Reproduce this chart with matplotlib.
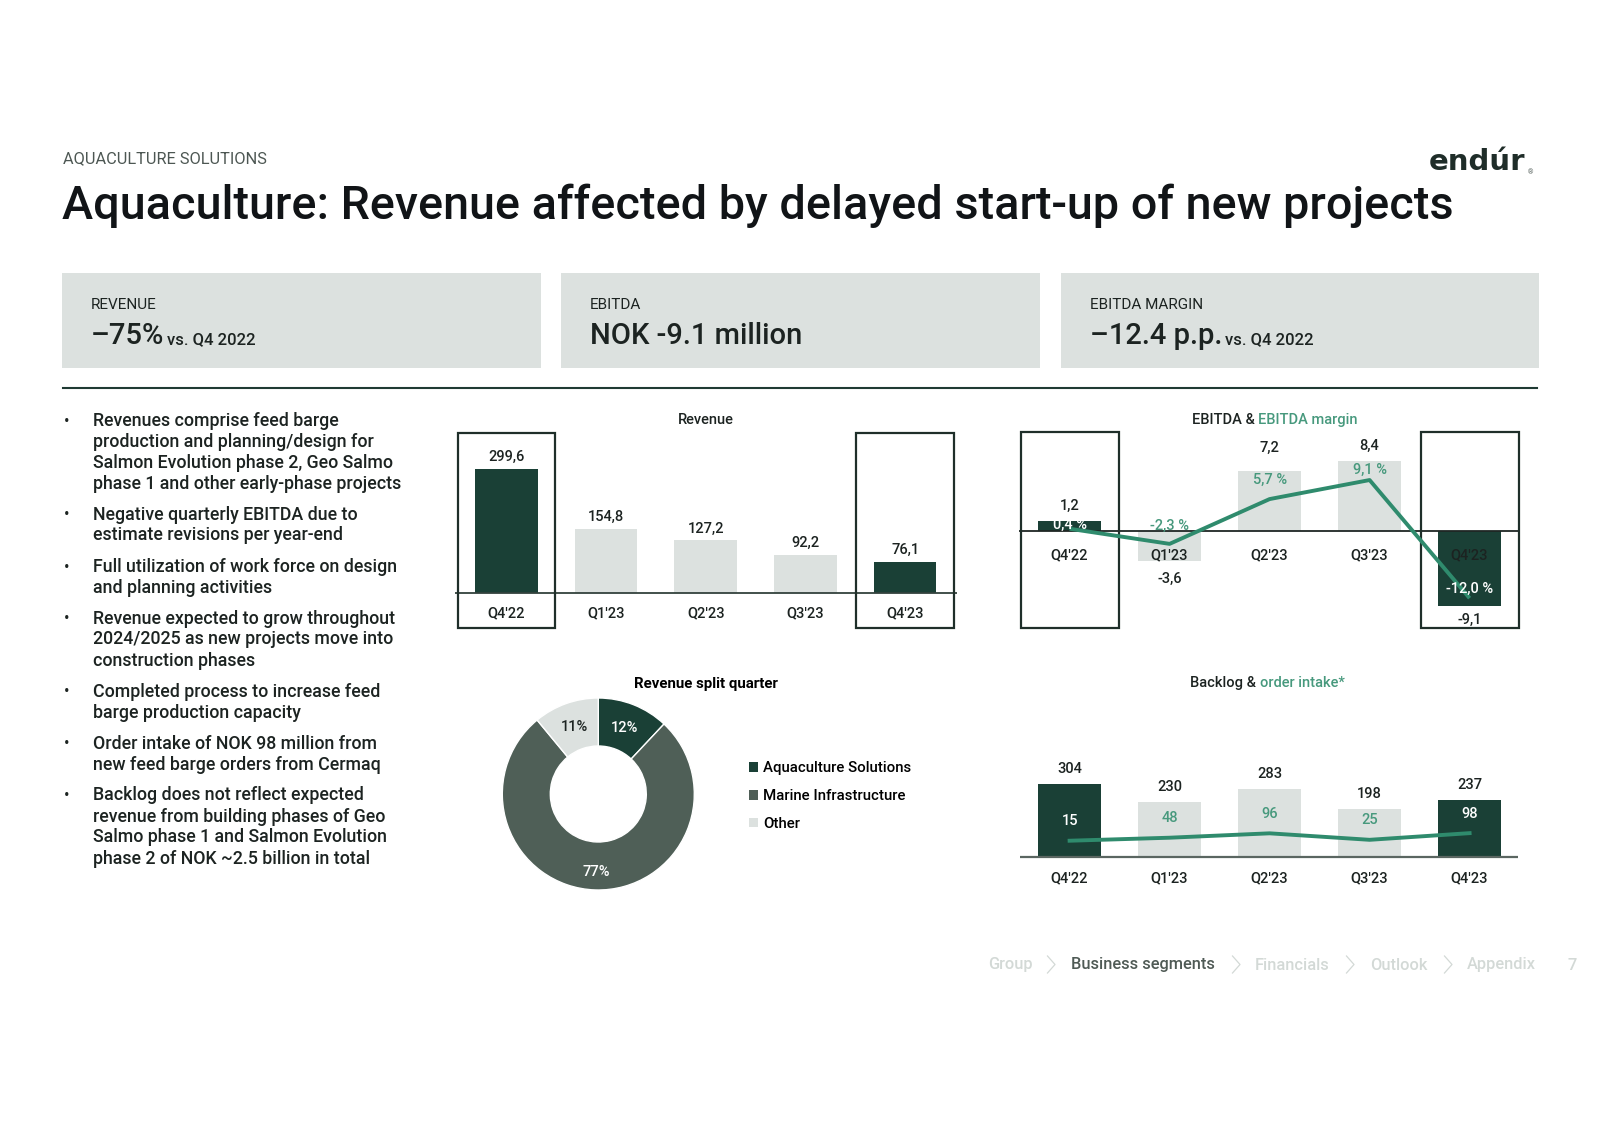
import matplotlib
matplotlib.use('Agg')
import matplotlib.pyplot as plt
from matplotlib.patches import Rectangle
from matplotlib.lines import Line2D

plt.rcParams['font.family'] = ['Roboto', 'DejaVu Sans']

# ---------------- data ----------------
quarters = ["Q4'22", "Q1'23", "Q2'23", "Q3'23", "Q4'23"]
revenue = [299.6, 154.8, 127.2, 92.2, 76.1]
ebitda = [1.2, -3.6, 7.2, 8.4, -9.1]
ebitda_margin = [0.4, -2.3, 5.7, 9.1, -12.0]
backlog = [304, 230, 283, 198, 237]
order_intake = [15, 48, 96, 25, 98]
split_labels = ["Aquaculture Solutions", "Marine Infrastructure", "Other"]
split_values = [12, 77, 11]
kpi_labels = ["REVENUE", "EBITDA", "EBITDA MARGIN"]
kpi_values = ["\u201375%", "NOK -9.1 million", "\u201312.4 p.p."]
kpi_suffix = ["vs. Q4 2022", "", "vs. Q4 2022"]
bullets = [
    ["Revenues comprise feed barge", "production and planning/design for",
     "Salmon Evolution phase 2, Geo Salmo", "phase 1 and other early-phase projects"],
    ["Negative quarterly EBITDA due to", "estimate revisions per year-end"],
    ["Full utilization of work force on design", "and planning activities"],
    ["Revenue expected to grow throughout", "2024/2025 as new projects move into",
     "construction phases"],
    ["Completed process to increase feed", "barge production capacity"],
    ["Order intake of NOK 98 million from", "new feed barge orders from Cermaq"],
    ["Backlog does not reflect expected", "revenue from building phases of Geo",
     "Salmo phase 1 and Salmon Evolution", "phase 2 of NOK ~2.5 billion in total"],
]
nav_items = ["Group", "Business segments", "Financials", "Outlook", "Appendix"]
page_number = "7"

# ---------------- styles ----------------
DARK = '#1a4036'
LIGHT = '#dce1df'
MID = '#4f5f57'
TEAL = '#2f8b6d'
TEAL_TXT = '#47997d'
INK = '#1c2321'
BOXLINE = '#1f2f2a'

W, H = 1600, 1131
fig = plt.figure(figsize=(16, 11.31), dpi=100)
fig.patch.set_facecolor('white')


def fx(x):
    return x / W


def fy(y):
    return 1 - y / H


def axes_at(left, top, right, bottom):
    ax = fig.add_axes([fx(left), fy(bottom), (right - left) / W, (bottom - top) / H])
    ax.axis('off')
    return ax


def fmt(v):
    return f"{v:.1f}".replace('.', ',')


n = len(quarters)
xs = list(range(n))
bar_colors = [DARK if i in (0, n - 1) else LIGHT for i in xs]

# ---------------- header ----------------
fig.text(fx(63), fy(159), "AQUACULTURE SOLUTIONS", fontsize=11.8, color='#4d5753',
         ha='left', va='center')
fig.text(fx(62), fy(206), "Aquaculture: Revenue affected by delayed start-up of new projects",
         fontsize=33.7, color='#111417', ha='left', va='center', weight='medium')
fig.text(fx(1429), fy(169.5), "end\u00far", fontsize=21, color='#1f2d29', ha='left',
         va='baseline', weight='bold', family='DejaVu Sans')
fig.text(fx(1527.5), fy(172.5), "\u00ae", fontsize=5, color='#55605c', ha='left', va='center')

# KPI boxes
box_x = [(62, 541), (561, 1040), (1061, 1539)]
for (l, r), lab, val, suf in zip(box_x, kpi_labels, kpi_values, kpi_suffix):
    fig.add_artist(Rectangle((fx(l), fy(368)), (r - l) / W, (368 - 273) / H,
                             transform=fig.transFigure, facecolor='#dce1df', edgecolor='none'))
    fig.text(fx(l + 29), fy(305), lab, fontsize=11, color=INK, ha='left', va='center')
    t = fig.text(fx(l + 29), fy(344), val, fontsize=21, color=INK, ha='left',
                 va='baseline', weight='medium')
    if suf:
        fig.canvas.draw()
        bb = t.get_window_extent()
        fig.text(bb.x1 / W + fx(3), fy(344), suf, fontsize=12, color=INK, ha='left',
                 va='baseline', weight='medium')

fig.add_artist(Line2D([fx(63), fx(1537)], [fy(388), fy(388)], color='#1f3a33', lw=1.5))

# ---------------- bullets ----------------
para_top = [421, 514.5, 567, 618.5, 692, 744, 795.5]
for top, lines in zip(para_top, bullets):
    fig.text(fx(64), fy(top), "\u2022", fontsize=12, color=INK, ha='left', va='center')
    for k, line in enumerate(lines):
        fig.text(fx(93), fy(top + 21 * k), line, fontsize=12.75, color=INK, ha='left',
                 va='center', weight='medium')

# ---------------- Revenue chart ----------------
ax1 = axes_at(454.5, 425, 956.9, 632)
ax1.set_xlim(-0.52, 4.52)
ax1.set_ylim(-93.3, 405.5)
ax1.bar(xs, revenue, width=0.63, color=bar_colors, zorder=2)
ax1.axhline(0, color='#33423d', lw=1.3, zorder=3)
for i in (0, n - 1):
    ax1.add_patch(Rectangle((i - 0.488, -82.9), 0.976, 387 + 82.9, fill=False,
                            ec=BOXLINE, lw=1.6, zorder=4))
for i, v in enumerate(revenue):
    ax1.annotate(fmt(v), (i, v), xytext=(0, 8.4), textcoords='offset points',
                 ha='center', va='center', fontsize=10.5, color=INK, weight='medium')
    ax1.text(i, -48, quarters[i], ha='center', va='center', fontsize=10.5, color=INK,
             weight='medium')
fig.text(fx(705.5), fy(420), "Revenue", fontsize=10.5, color=INK, ha='center', va='center',
         weight='medium')

# ---------------- EBITDA chart ----------------
# x: 1069.6 + 100*i px ; zero line at 531 px, 8.28 px per unit
ax2 = axes_at(1017.6, 425, 1521.6, 632)
ax2.set_xlim(-0.52, 4.52)
ax2.set_ylim(-12.2, 12.8)
ax2.bar(xs, ebitda, width=0.627, color=bar_colors, zorder=2)
ax2.hlines(0, -0.503, 4.487, color='#1f2624', lw=1.3, zorder=3)
for i in (0, n - 1):
    ax2.add_patch(Rectangle((i - 0.49, -11.68), 0.98, 11.96 + 11.68, fill=False,
                            ec=BOXLINE, lw=1.6, zorder=4))
ebitda_label_gap = [15, 18.3, 23.4, 16, 13.3]  # px away from bar end
for i, v in enumerate(ebitda):
    g = ebitda_label_gap[i] * 0.72
    off = g if v >= 0 else -g
    ax2.annotate(fmt(v), (i, v), xytext=(0, off), textcoords='offset points',
                 ha='center', va='center', fontsize=10.5, color=INK, weight='medium')
    ax2.text(i, -2.9, quarters[i], ha='center', va='center', fontsize=10.5,
             color=INK, weight='medium', zorder=3)
ax2b = ax2.twinx()
ax2b.axis('off')
ax2b.set_xlim(-0.52, 4.52)
ax2b.set_ylim(-18.04, 18.93)
ax2b.plot(xs, ebitda_margin, color=TEAL, lw=2.8, zorder=5, solid_capstyle='butt')
margin_label_offsets = [2.6, 13.2, 13.9, 7.2, 7]
for i, v in enumerate(ebitda_margin):
    c = 'white' if i in (0, n - 1) else TEAL_TXT
    ax2b.annotate(fmt(v) + " %", (i, v), xytext=(0, margin_label_offsets[i]),
                  textcoords='offset points', ha='center', va='center', fontsize=10.5,
                  color=c, weight='medium', zorder=6)
t1 = fig.text(fx(1192), fy(420), "EBITDA & ", fontsize=10.5, color=INK, ha='left',
              va='center', weight='medium')
fig.canvas.draw()
bb = t1.get_window_extent()
fig.text(bb.x1 / W, fy(420), "EBITDA margin", fontsize=10.5, color=TEAL_TXT, ha='left',
         va='center', weight='medium')

# ---------------- Donut ----------------
cx, cy, r = 598.3, 794, 96
ax4 = fig.add_axes([fx(cx - 1.05 * r), fy(cy + 1.05 * r), 2.1 * r / W, 2.1 * r / H])
wedges, _, autotexts = ax4.pie(split_values, colors=[DARK, MID, LIGHT], startangle=90,
                               counterclock=False, radius=1,
                               wedgeprops=dict(width=0.5, edgecolor='white', linewidth=1),
                               autopct=lambda p: f"{p:.0f}%", pctdistance=0.74,
                               textprops=dict(fontsize=10.5, weight='medium'))
for at, c in zip(autotexts, ['white', 'white', INK]):
    at.set_color(c)
# the large segment's label sits further out in the reference
px_, py_ = autotexts[1].get_position()
autotexts[1].set_position((px_ * 0.81 / 0.74, py_ * 0.81 / 0.74))
ax4.set_xlim(-1.05, 1.05)
ax4.set_ylim(-1.05, 1.05)
ax4.set_aspect('equal')
ax4.axis('off')
leg = ax4.legend(wedges, split_labels, loc='upper left',
                 bbox_to_anchor=(fx(749), fy(761)), bbox_transform=fig.transFigure,
                 frameon=False, handlelength=0.62, handleheight=0.62, handletextpad=0.3,
                 labelspacing=0.93, borderpad=0, borderaxespad=0,
                 prop=dict(size=10.8, weight='medium'))
for h in leg.legend_handles:
    h.set_edgecolor('none')
fig.text(fx(706), fy(684), "Revenue split quarter", fontsize=10.8, color='black',
         ha='center', va='center', weight='bold')

# ---------------- Backlog chart ----------------
# baseline at 857.3 px, 0.2423 px per unit
ax3 = axes_at(1017.6, 740, 1521.6, 895)
ax3.set_xlim(-0.52, 4.52)
ax3.set_ylim(-155.6, 484.1)
ax3.bar(xs, backlog, width=0.627, color=bar_colors, zorder=2)
ax3.hlines(0, -0.496, 4.487, color='#5a6661', lw=1.6, zorder=3)
for i, v in enumerate(backlog):
    ax3.annotate(f"{v}", (i, v), xytext=(0, 10.8), textcoords='offset points',
                 ha='center', va='center', fontsize=10.5, color=INK, weight='medium')
    ax3.text(i, -86, quarters[i], ha='center', va='center', fontsize=10.5, color=INK,
             weight='medium')
ax3b = ax3.twinx()
ax3b.axis('off')
ax3b.set_xlim(-0.52, 4.52)
ax3b.set_ylim(-578.8, 1117)
ax3b.plot(xs, order_intake, color=TEAL, lw=2.8, zorder=5)
for i, v in enumerate(order_intake):
    c = 'white' if i in (0, n - 1) else TEAL_TXT
    ax3b.annotate(f"{v}", (i, v), xytext=(0, 14), textcoords='offset points',
                  ha='center', va='center', fontsize=10.5, color=c, weight='medium')
t2 = fig.text(fx(1190), fy(683), "Backlog & ", fontsize=10.5, color=INK, ha='left',
              va='center', weight='medium')
fig.canvas.draw()
bb = t2.get_window_extent()
fig.text(bb.x1 / W, fy(683), "order intake*", fontsize=10.5, color=TEAL_TXT, ha='left',
         va='center', weight='medium')

# ---------------- footer nav ----------------
nav_x = [988, 1071, 1255, 1370, 1467]
chev_x = [1051, 1236, 1350, 1448]
for name, x0 in zip(nav_items, nav_x):
    active = name == "Business segments"
    fig.text(fx(x0), fy(965), name, fontsize=11.8, ha='left', va='center',
             color='#4f5a55' if active else '#d3d9d6', weight='medium')
for cxp in chev_x:
    fig.add_artist(Line2D([fx(cxp - 3.5), fx(cxp + 4), fx(cxp - 3.5)],
                          [fy(956), fy(964.5), fy(973)], color='#d3d9d6', lw=0.9))
fig.text(fx(1568), fy(965), page_number, fontsize=11.8, ha='left', va='center',
         color='#d3d9d6', weight='medium')

fig.savefig('out.png', dpi=100, facecolor='white')
